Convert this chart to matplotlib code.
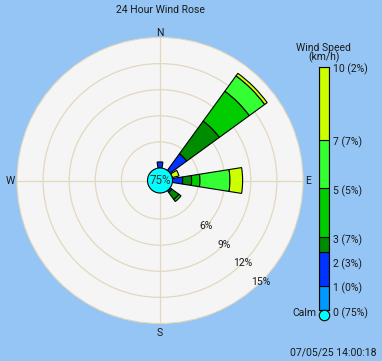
import numpy as np
import matplotlib
matplotlib.use('Agg')
import matplotlib.pyplot as plt
from matplotlib.patches import Circle

plt.rcParams['font.family'] = ['Roboto', 'DejaVu Sans']

# directions (16 points, clockwise from N)
directions = ['N', 'NNE', 'NE', 'ENE', 'E', 'ESE', 'SE', 'SSE',
              'S', 'SSW', 'SW', 'WSW', 'W', 'WNW', 'NW', 'NNW']

# frequency (%) per direction for each speed bin (km/h)
spd_0_1  = [0, 0, 0, 0, 0, 0, 0, 0, 0, 0, 0, 0, 0, 0, 0, 0]
spd_1_2  = [0.7, 0, 2.36, 0, 1.17, 0, 0.25, 0, 0, 0, 0, 0, 0, 0, 0, 0]
spd_2_3  = [0, 0, 4.64, 0, 1.03, 0, 1.0, 0, 0, 0, 0, 0, 0, 0, 0, 0]
spd_3_5  = [0, 0, 4.25, 0, 0.95, 0, 0.3, 0, 0, 0, 0, 0, 0, 0, 0, 0]
spd_5_7  = [0, 0, 2.18, 0, 3.45, 0, 0, 0, 0, 0, 0, 0, 0, 0, 0, 0]
spd_7_10 = [0, 0, 0.36, 0.8, 1.46, 0, 0, 0, 0, 0, 0, 0, 0, 0, 0, 0]
bins = [spd_0_1, spd_1_2, spd_2_3, spd_3_5, spd_5_7, spd_7_10]
calm_pct = 75

# legend
leg_speeds = [0, 1, 2, 3, 5, 7, 10]
leg_pcts = [75, 0, 3, 7, 5, 7, 2]
leg_edges = [0, 1, 2.37, 3, 5, 7, 10]   # colour band edges as drawn
ring_vals = [3, 6, 9, 12]
ring_labels = [6, 9, 12, 15]

bin_colors = ['#0099FF', '#0033FF', '#008C00', '#00CC00', '#33FF33', '#CCFF00']
calm_color = '#00FFFF'
bg = '#95C5F4'
grid_c = '#E2D8BE'
txt_c = '#1A1A1A'
fs = 7.5

W, H = 382, 361
fig = plt.figure(figsize=(W / 100, H / 100), dpi=100, facecolor=bg)

# rose
rmax = 15
r0 = 12.5 / (143 - 12.5) * rmax   # calm circle size in % units
ax = fig.add_axes([17 / W, (H - 323.5) / H, 286 / W, 286 / H], projection='polar')
ax.set_theta_zero_location('N')
ax.set_theta_direction(-1)
ax.set_ylim(-r0, rmax)
ax.set_facecolor('#F5F5F5')
ax.spines['polar'].set_color(grid_c)
ax.set_xticks(np.radians([0, 90, 180, 270]))
ax.set_xticklabels([])
ax.set_yticks(ring_vals)
ax.set_yticklabels([])
ax.grid(color=grid_c, lw=0.9)

theta = np.radians(np.arange(16) * 22.5)
width = np.radians(18)
cum = np.zeros(16)
for vals, c in zip(bins, bin_colors):
    v = np.array(vals, dtype=float)
    m = v > 0
    if m.any():
        ax.bar(theta[m], v[m], width=width, bottom=cum[m], color=c,
               edgecolor='black', lw=0.8, zorder=3)
    cum += v

calm = Circle((0.5, 0.5), 0.5 * r0 / (rmax + r0), transform=ax.transAxes,
              facecolor=calm_color, edgecolor='black', lw=0.8, zorder=4)
ax.add_patch(calm)
ax.text(0.5, 0.5, f'{calm_pct}%', transform=ax.transAxes, ha='center',
        va='center', fontsize=8.3, color='#333333', zorder=5)

for v in ring_labels:
    ax.text(np.radians(135), v, f'{v}%', ha='center', va='center',
            fontsize=fs, color=txt_c, zorder=5)

ax.annotate('N', xy=(0, rmax), xytext=(0, -1), textcoords='offset pixels',
            ha='center', va='bottom', fontsize=fs, color=txt_c)
ax.annotate('E', xy=(np.pi / 2, rmax), xytext=(2, 0), textcoords='offset pixels',
            ha='left', va='center', fontsize=fs, color=txt_c)
ax.annotate('S', xy=(np.pi, rmax), xytext=(0, -4), textcoords='offset pixels',
            ha='center', va='top', fontsize=fs, color=txt_c)
ax.annotate('W', xy=(1.5 * np.pi, rmax), xytext=(-2, 0), textcoords='offset pixels',
            ha='right', va='center', fontsize=fs, color=txt_c)

# speed legend bar
cax = fig.add_axes([319.3 / W, (H - 310) / H, 10 / W, 243.3 / H])
cax.set_xlim(0, 1)
cax.set_ylim(0, 10)
for lo, hi, c in zip(leg_edges[:-1], leg_edges[1:], bin_colors):
    cax.bar(0.5, hi - lo, bottom=lo, width=1, color=c, edgecolor='black', lw=0.8)
cax.set_xticks([])
cax.set_yticks([])
for s in cax.spines.values():
    s.set_linewidth(0.8)
cax.plot(0.5, -0.2, 'o', ms=7.5, mfc=calm_color, mec='black', mew=0.8,
         clip_on=False, zorder=5)
for sp, pc in zip(leg_speeds, leg_pcts):
    cax.annotate(f'{sp} ({pc}%)', xy=(1, sp), xycoords=('axes fraction', 'data'),
                 xytext=(4, -3), textcoords='offset pixels', ha='left',
                 va='center', fontsize=fs, color=txt_c)
cax.annotate('Calm', xy=(0, 0), xycoords=('axes fraction', 'data'),
             xytext=(-3, -3), textcoords='offset pixels', ha='right',
             va='center', fontsize=fs, color=txt_c)

fig.text(323.7 / W, 1 - 48 / H, 'Wind Speed', ha='center', va='center',
         fontsize=fs, color=txt_c)
fig.text(323.7 / W, 1 - 57.5 / H, '(km/h)', ha='center', va='center',
         fontsize=fs, color=txt_c)
fig.text(160 / W, 1 - 10.3 / H, '24 Hour Wind Rose', ha='center', va='center',
         fontsize=fs, color=txt_c)
fig.text(377 / W, 1 - 353 / H, '07/05/25 14:00:18', ha='right', va='center',
         fontsize=fs, color=txt_c)

fig.savefig('out.png', dpi=100, facecolor=bg)
